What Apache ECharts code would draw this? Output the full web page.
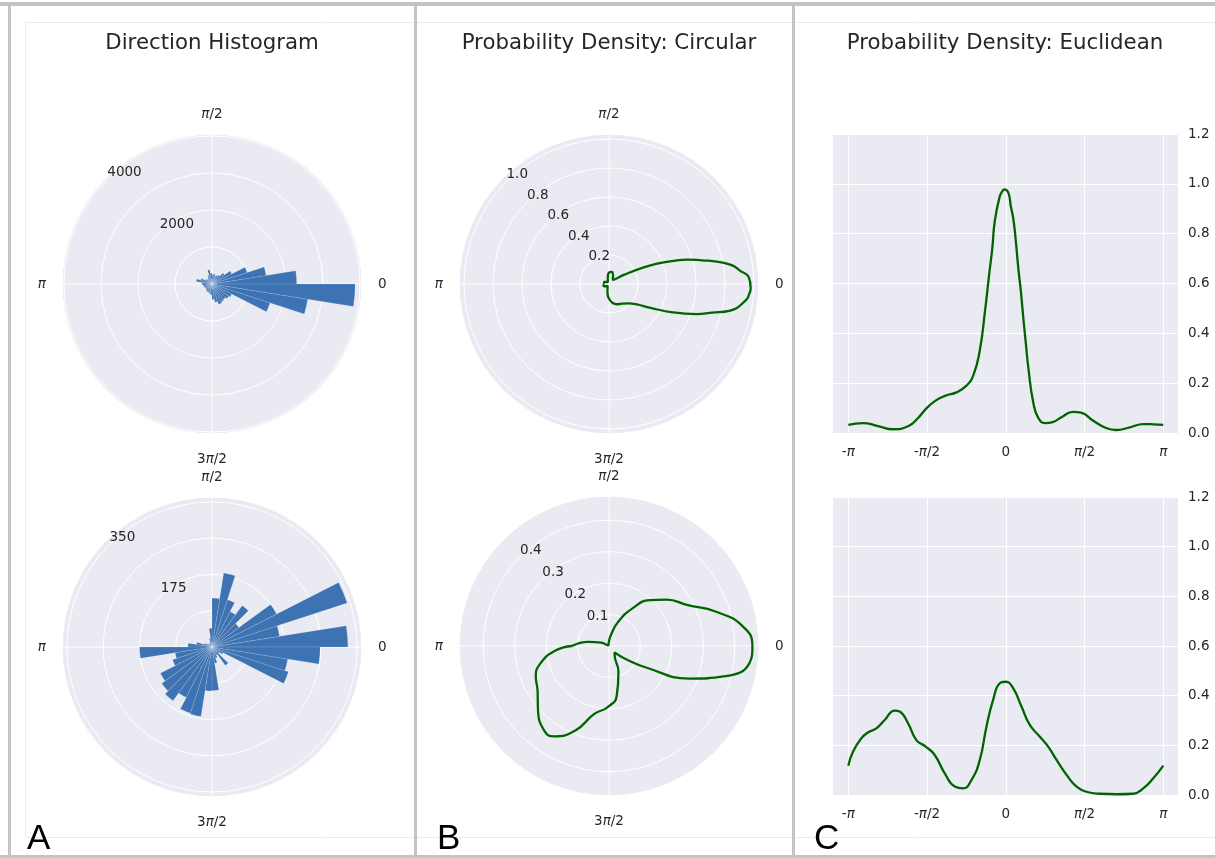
<!DOCTYPE html>
<html>
<head>
<meta charset="utf-8">
<script src="https://cdn.jsdelivr.net/npm/echarts@6/dist/echarts.min.js"></script>
<style>
html, body { margin: 0; padding: 0; background: #ffffff; }
#chart { width: 1215px; height: 858px; }
</style>
</head>
<body>
<div id="chart"></div>
<script>
// ---- data -------------------------------------------------------------

// direction bins: 40 bins of 9 degrees, counter-clockwise from 0
const binStart = [0, 9, 18, 27, 36, 45, 54, 63, 72, 81,
                  90, 99, 108, 117, 126, 135, 144, 153, 162, 171,
                  180, 189, 198, 207, 216, 225, 234, 243, 252, 261,
                  270, 279, 288, 297, 306, 315, 324, 333, 342, 351];

// counts per bin, first trajectory set
const histTop = [2290, 1480, 1000, 600, 420, 300, 260, 240, 280, 250,
                 300, 390, 250, 200, 150, 180, 220, 320, 430, 280,
                 260, 230, 220, 200, 210, 230, 240, 250, 260, 300,
                 420, 500, 580, 540, 520, 560, 600, 1650, 2620, 3870];

// counts per bin, second trajectory set
const histBottom = [328, 165, 343, 175, 80, 124, 96, 120, 181, 118,
                    45, 22, 14, 10, 8, 10, 14, 20, 38, 58,
                    175, 90, 100, 140, 150, 160, 137, 168, 170, 106,
                    105, 40, 28, 22, 55, 22, 30, 194, 185, 261];

// kernel density of direction (radians, -pi..pi), first set
const thetaTop = [-3.1416, -2.85, -2.55, -2.25, -1.95, -1.75, -1.597, -1.40, -1.20, -0.985,
                  -0.785, -0.65, -0.52, -0.42, -0.33, -0.27, -0.22, -0.12, -0.07, -0.03,
                  0.05, 0.10, 0.15, 0.20, 0.25, 0.30, 0.35, 0.40, 0.45, 0.55,
                  0.65, 0.78, 0.95, 1.10, 1.345, 1.50, 1.744, 2.00, 2.20, 2.476,
                  2.742, 2.942, 3.1416];
const densityTop = [0.033, 0.040, 0.028, 0.015, 0.027, 0.060, 0.096, 0.130, 0.150, 0.163,
                    0.190, 0.230, 0.330, 0.480, 0.640, 0.740, 0.850, 0.950, 0.970, 0.978,
                    0.965, 0.910, 0.860, 0.770, 0.660, 0.570, 0.460, 0.360, 0.260, 0.120,
                    0.060, 0.040, 0.045, 0.062, 0.085, 0.082, 0.049, 0.020, 0.012, 0.023,
                    0.036, 0.035, 0.033];

// kernel density of direction (radians, -pi..pi), second set
const thetaBottom = [-3.1416, -3.048, -2.882, -2.749, -2.582, -2.416, -2.216, -2.117, -1.95, -1.784,
                     -1.597, -1.418, -1.218, -1.018, -0.852, -0.686, -0.519, -0.386, -0.253, -0.12,
                     0.0, 0.146, 0.313, 0.479, 0.679, 0.845, 1.012, 1.212, 1.411, 1.611,
                     1.877, 2.21, 2.542, 2.742, 2.942, 3.1416];
const densityBottom = [0.118, 0.174, 0.228, 0.252, 0.268, 0.302, 0.340, 0.336, 0.289, 0.221,
                       0.195, 0.161, 0.087, 0.034, 0.027, 0.060, 0.141, 0.275, 0.383, 0.450,
                       0.456, 0.430, 0.356, 0.282, 0.235, 0.195, 0.141, 0.081, 0.034, 0.013,
                       0.005, 0.003, 0.005, 0.027, 0.067, 0.118];

// tick labels (rich text: italic pi; top/bottom labels nudged toward the dial)
const angleTickLabels = { 0: '0', 90: '{ti|π}{t|/2}', 180: '{i|π}', 270: '{b|3}{bi|π}{b|/2}' };
const xTickLabels = { '-180': '-{i|π}', '-90': '-{i|π}/2', '0': '0', '90': '{i|π}/2', '180': '{i|π}' };
const radiusLabelsHistTop = ['2000', '4000'];
const radiusLabelsHistBottom = ['175', '350'];
const radiusLabelsDensityTop = ['0.2', '0.4', '0.6', '0.8', '1.0'];
const radiusLabelsDensityBottom = ['0.1', '0.2', '0.3', '0.4'];

// ---- style ------------------------------------------------------------
const BG = '#EAEAF2';
const TEXT = '#262626';
const FONT = 'DejaVu Sans';
const TICK_SIZE = 13.5;
const BAR = '#3D73B2';
const LINE = '#006400';
const R = 150;
const base = { fontFamily: FONT, fontSize: TICK_SIZE, color: TEXT };
const RICH = {
  i:  Object.assign({ fontStyle: 'italic' }, base),
  t:  Object.assign({ lineHeight: 8 }, base),
  ti: Object.assign({ fontStyle: 'italic', lineHeight: 8 }, base),
  b:  Object.assign({ lineHeight: 19 }, base),
  bi: Object.assign({ fontStyle: 'italic', lineHeight: 19 }, base)
};

const toDeg = t => t * 180 / Math.PI;

// ---- polar dials ------------------------------------------------------
const polar = [], angleAxis = [], radiusAxis = [], series = [];

function addPolar(center, angleCfg, radiusCfg) {
  polar.push({ center: center, radius: R });
  const idx = polar.length - 1;
  angleAxis.push(Object.assign({ polarIndex: idx }, angleCfg));
  radiusAxis.push(Object.assign({ polarIndex: idx }, radiusCfg));
  return idx;
}

const hidden = { axisLine: { show: false }, axisTick: { show: false }, axisLabel: { show: false }, splitLine: { show: false } };

// background disc, white grid with angle labels, radius labels at 135 deg
function dial(center, rMax, rStep, radiusLabels) {
  addPolar(center,
    Object.assign({ type: 'value', min: 0, max: 360, z: 0 }, hidden),
    Object.assign({ type: 'value', min: 0, max: rMax, interval: rStep, z: 0 }, hidden,
      { splitArea: { show: true, areaStyle: { color: [BG, BG] } } }));

  const gridIdx = addPolar(center,
    {
      type: 'value', min: 0, max: 360, interval: 90, startAngle: 0, clockwise: false, z: 1,
      axisLine: { show: true, lineStyle: { color: '#ffffff', width: 1 } },
      axisTick: { show: false },
      axisLabel: {
        margin: 16, color: TEXT, fontFamily: FONT, fontSize: TICK_SIZE, rich: RICH,
        formatter: v => angleTickLabels[v] || ''
      },
      splitLine: { show: true, lineStyle: { color: '#ffffff', width: 1 } }
    },
    Object.assign({ type: 'value', min: 0, max: rMax, interval: rStep, z: 1 }, hidden,
      { splitLine: { show: true, lineStyle: { color: '#ffffff', width: 1 } } }));

  addPolar(center,
    Object.assign({ type: 'value', min: 0, max: 360, startAngle: 135, clockwise: false }, hidden),
    {
      type: 'value', min: 0, max: rMax, interval: rStep, z: 3,
      axisLine: { show: false }, axisTick: { show: false }, splitLine: { show: false },
      axisLabel: {
        show: true, margin: 0, align: 'left', verticalAlign: 'bottom',
        color: TEXT, fontFamily: FONT, fontSize: TICK_SIZE,
        formatter: v => {
          const hit = radiusLabels.find(s => Math.abs(parseFloat(s) - v) < rMax * 1e-6);
          return hit || '';
        }
      }
    });
  return gridIdx;
}

function histogram(center, rMax, rStep, radiusLabels, counts) {
  dial(center, rMax, rStep, radiusLabels);
  const dataIdx = addPolar(center,
    Object.assign({ type: 'category', data: binStart, startAngle: 0, clockwise: false, boundaryGap: true }, hidden),
    Object.assign({ type: 'value', min: 0, max: rMax }, hidden));
  series.push({
    type: 'bar', coordinateSystem: 'polar', polarIndex: dataIdx,
    data: counts, barCategoryGap: '0%', barGap: '0%', silent: true,
    itemStyle: { color: BAR, borderColor: 'rgba(255,255,255,0.28)', borderWidth: 0.5 }
  });
}

function circularDensity(center, rMax, rStep, radiusLabels, theta, dens) {
  const idx = dial(center, rMax, rStep, radiusLabels);
  series.push({
    type: 'line', coordinateSystem: 'polar', polarIndex: idx,
    data: theta.map((t, i) => [dens[i], (toDeg(t) + 360) % 360]),
    smooth: true, showSymbol: false, silent: true,
    lineStyle: { color: LINE, width: 2.3 }
  });
}

histogram([212, 284], 4054, 1000, radiusLabelsHistTop, histTop);
histogram([212, 647], 362, 87.5, radiusLabelsHistBottom, histBottom);
circularDensity([609, 284], 1.035, 0.2, radiusLabelsDensityTop, thetaTop, densityTop);
circularDensity([609, 646], 0.477, 0.1, radiusLabelsDensityBottom, thetaBottom, densityBottom);

// ---- euclidean density plots ------------------------------------------
const grid = [], xAxis = [], yAxis = [];

function euclidean(top, height, theta, dens) {
  grid.push({ left: 833, top: top, width: 345, height: height, show: true, backgroundColor: BG, borderWidth: 0, containLabel: false, outerBoundsMode: 'none' });
  const outer = grid.length - 1;
  grid.push({ left: 848.3, top: top, width: 315, height: height, containLabel: false, outerBoundsMode: 'none' });
  const inner = grid.length - 1;

  xAxis.push({ gridIndex: outer, type: 'value', min: 0, max: 1, show: false });
  yAxis.push({
    gridIndex: outer, type: 'value', position: 'right', min: 0, max: 1.2, interval: 0.2,
    axisLine: { show: false }, axisTick: { show: false },
    axisLabel: { margin: 10, color: TEXT, fontFamily: FONT, fontSize: TICK_SIZE, formatter: v => v.toFixed(1) },
    splitLine: { show: true, lineStyle: { color: '#ffffff', width: 1 } }
  });
  xAxis.push({
    gridIndex: inner, type: 'value', min: -180, max: 180, interval: 90,
    axisLine: { show: false }, axisTick: { show: false },
    axisLabel: { margin: 12, color: TEXT, fontFamily: FONT, fontSize: TICK_SIZE, rich: RICH, formatter: v => xTickLabels[String(v)] || '' },
    splitLine: { show: true, lineStyle: { color: '#ffffff', width: 1 } }
  });
  yAxis.push({ gridIndex: inner, type: 'value', min: 0, max: 1.2, show: false });

  series.push({
    type: 'line', xAxisIndex: xAxis.length - 1, yAxisIndex: yAxis.length - 1,
    data: theta.map((t, i) => [toDeg(t), dens[i]]),
    smooth: true, showSymbol: false, silent: true,
    lineStyle: { color: LINE, width: 2.3 }
  });
}

euclidean(134, 299, thetaTop, densityTop);
euclidean(497, 298, thetaBottom, densityBottom);

// ---- frame, titles, panel letters -------------------------------------
const FRAME = '#c4c4c4';
const FAINT = '#ebebeb';
const graphic = [
  { type: 'line', shape: { x1: 25, y1: 22.5, x2: 1215, y2: 22.5 }, style: { stroke: FAINT, lineWidth: 1 }, silent: true },
  { type: 'line', shape: { x1: 25, y1: 837.5, x2: 1215, y2: 837.5 }, style: { stroke: FAINT, lineWidth: 1 }, silent: true },
  { type: 'line', shape: { x1: 25.5, y1: 22, x2: 25.5, y2: 838 }, style: { stroke: FAINT, lineWidth: 1 }, silent: true },
  { type: 'rect', shape: { x: 0, y: 2, width: 1215, height: 4 }, style: { fill: FRAME }, silent: true },
  { type: 'rect', shape: { x: 8, y: 2, width: 3, height: 856 }, style: { fill: FRAME }, silent: true },
  { type: 'rect', shape: { x: 414, y: 2, width: 3, height: 856 }, style: { fill: FRAME }, silent: true },
  { type: 'rect', shape: { x: 792, y: 2, width: 3, height: 856 }, style: { fill: FRAME }, silent: true },
  { type: 'rect', shape: { x: 0, y: 855, width: 1215, height: 3 }, style: { fill: FRAME }, silent: true }
];

const titles = [
  ['Direction Histogram', 212],
  ['Probability Density: Circular', 609],
  ['Probability Density: Euclidean', 1005]
];
titles.forEach(([txt, x]) => graphic.push({
  type: 'text', x: x, y: 43, silent: true,
  style: { text: txt, font: '21.3px "DejaVu Sans"', fill: TEXT, textAlign: 'center', textVerticalAlign: 'middle', align: 'center', verticalAlign: 'middle' }
}));

const letters = [['A', 27], ['B', 437], ['C', 814]];
letters.forEach(([txt, x]) => graphic.push({
  type: 'text', x: x, y: 839.5, silent: true,
  style: { text: txt, font: '35px "Liberation Sans"', fill: '#000000', textAlign: 'left', textVerticalAlign: 'middle', align: 'left', verticalAlign: 'middle' }
}));

// ---- render -----------------------------------------------------------
const chart = echarts.init(document.getElementById('chart'), null, { renderer: 'canvas' });
chart.setOption({
  animation: false,
  backgroundColor: '#ffffff',
  textStyle: { fontFamily: FONT },
  polar: polar,
  angleAxis: angleAxis,
  radiusAxis: radiusAxis,
  grid: grid,
  xAxis: xAxis,
  yAxis: yAxis,
  graphic: graphic,
  series: series
});
</script>
</body>
</html>
